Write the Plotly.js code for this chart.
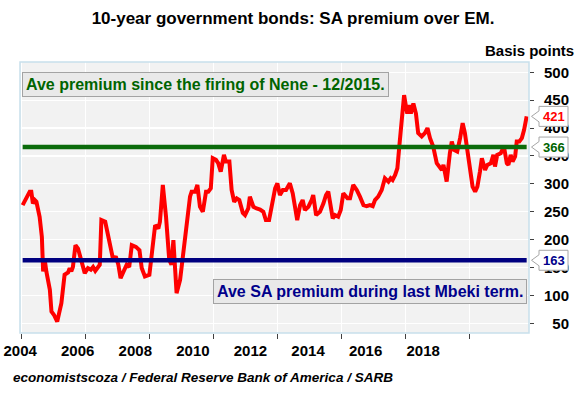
<!DOCTYPE html>
<html><head><meta charset="utf-8">
<script src="https://cdn.plot.ly/plotly-3.0.1.min.js"></script>
<style>html,body{margin:0;padding:0;background:#fff}#chart{width:577px;height:396px}</style>
</head><body><div id="chart"></div>
<script>
// ---- data ----
const years = [2004.03, 2004.25, 2004.30, 2004.35, 2004.41, 2004.46, 2004.56, 2004.63, 2004.67, 2004.72, 2004.77, 2004.88, 2004.93,
  2005.01, 2005.11, 2005.24, 2005.34, 2005.45, 2005.50, 2005.55, 2005.60, 2005.68, 2005.76, 2005.86, 2005.97,
  2006.07, 2006.16, 2006.23, 2006.30, 2006.44, 2006.49, 2006.61, 2006.76, 2006.84, 2006.95,
  2007.02, 2007.09, 2007.20, 2007.28, 2007.36, 2007.44, 2007.57, 2007.68, 2007.75, 2007.85, 2007.99,
  2008.06, 2008.17, 2008.27, 2008.32, 2008.41, 2008.51, 2008.61, 2008.68, 2008.74, 2008.84, 2008.95,
  2009.05, 2009.18, 2009.26, 2009.31, 2009.42, 2009.49, 2009.57, 2009.66, 2009.76, 2009.83, 2009.91, 2009.97,
  2010.07, 2010.14, 2010.22, 2010.32, 2010.38, 2010.49, 2010.56, 2010.64, 2010.72, 2010.80, 2010.91, 2010.98,
  2011.08, 2011.13, 2011.24, 2011.34, 2011.45, 2011.55, 2011.63, 2011.73, 2011.81, 2011.92, 2011.99,
  2012.07, 2012.16, 2012.26, 2012.38, 2012.47, 2012.54, 2012.61, 2012.70, 2012.78, 2012.85, 2012.96,
  2013.06, 2013.11, 2013.20, 2013.32, 2013.43, 2013.51, 2013.58, 2013.66, 2013.72, 2013.79, 2013.89, 2013.97,
  2014.05, 2014.18, 2014.26, 2014.36, 2014.47, 2014.57, 2014.68, 2014.78, 2014.88, 2014.97,
  2015.04, 2015.14, 2015.25, 2015.35, 2015.46, 2015.53, 2015.59, 2015.67, 2015.74, 2015.80, 2015.88, 2015.95,
  2016.01, 2016.05, 2016.11, 2016.16, 2016.24, 2016.32, 2016.39, 2016.50, 2016.60, 2016.68, 2016.76, 2016.86, 2016.97,
  2017.07, 2017.13, 2017.18, 2017.28, 2017.38, 2017.44, 2017.51, 2017.61, 2017.70, 2017.78, 2017.85, 2017.93,
  2018.01, 2018.09, 2018.17, 2018.24, 2018.32, 2018.38, 2018.48, 2018.55, 2018.66, 2018.74, 2018.79, 2018.86, 2018.97,
  2019.07, 2019.16, 2019.21, 2019.28, 2019.34, 2019.42, 2019.47, 2019.55, 2019.63, 2019.70, 2019.78];

const premium = [262, 286, 286, 265, 271, 268, 241, 205, 143, 164, 143, 110, 71,
  65, 53, 86, 137, 141, 149, 143, 151, 190, 184, 160, 140,
  149, 146, 151, 144, 155, 235, 232, 190, 169, 168,
  155, 131, 146, 155, 151, 190, 187, 181, 149, 134, 137,
  175, 226, 220, 232, 298, 241, 164, 155, 199, 104, 128,
  181, 241, 277, 286, 286, 298, 259, 250, 286, 286, 292, 346,
  343, 337, 322, 352, 340, 340, 289, 268, 274, 271, 248, 244,
  256, 277, 259, 256, 254, 250, 235, 235, 259, 292, 301,
  280, 289, 289, 301, 283, 259, 235, 262, 271, 253, 259,
  271, 280, 244, 250, 265, 280, 286, 256, 238, 244, 241, 253,
  283, 274, 274, 298, 289, 277, 262, 260, 262, 260,
  271, 277, 289, 310, 304, 310, 307, 316, 328, 367, 426, 459,
  438, 426, 441, 426, 444, 426, 391, 385, 391, 400, 382, 367, 337,
  331, 325, 334, 304, 355, 376, 361, 358, 382, 409, 391, 361,
  322, 295, 286, 295, 322, 346, 325, 334, 337, 352, 331, 352, 355,
  367, 337, 334, 352, 340, 349, 376, 376, 382, 397, 421];

const neneAvg = 366;   // average premium since Dec 2015
const mbekiAvg = 163;  // average premium during last Mbeki term

const xTickVals = [2004, 2006, 2008, 2010, 2012, 2014, 2016, 2018];
const xTickText = ['2004', '2006', '2008', '2010', '2012', '2014', '2016', '2018'];
const yTickVals = [50, 100, 150, 200, 250, 300, 350, 400, 450, 500];
const yTickText = ['50', '100', '150', '200', '250', '300', '350', '400', '450', '500'];

// ---- layout helpers ----
const FONT = 'Liberation Sans, Arial, sans-serif';
const W = 577, H = 396;
const M = {l: 20, r: 5, t: 62, b: 63};
const paperW = W - M.l - M.r;
const plotH = H - M.t - M.b;
const plotRight = 529;
const xDomEnd = (plotRight - M.l) / paperW;
const px2paperX = px => (px - M.l) / paperW;
const px2paperY = py => (H - M.b - py) / plotH;
const yRange = [32.6, 518.5];
const bpPerPx = (yRange[1] - yRange[0]) / plotH;
// label axis: labels sit 28.79 px per year apart (as in the reference)
const labelStart = 2003.995;
const labelRange = [labelStart, labelStart + (plotRight - M.l) / 28.79];

const lastVal = premium[premium.length - 1];

function calloutShape(v) {
  const x0 = px2paperX(531.5), x1 = px2paperX(539), x2 = px2paperX(568);
  const h = 10 * bpPerPx, p = 5.5 * bpPerPx;
  return {
    type: 'path', xref: 'paper', yref: 'y', layer: 'above',
    path: `M${x1},${v + h} L${x2},${v + h} L${x2},${v - h} L${x1},${v - h} L${x1},${v - p} L${x0},${v} L${x1},${v + p} Z`,
    fillcolor: '#ffffff', line: {color: '#a6a6a6', width: 1}
  };
}
function calloutText(v, color) {
  return {
    xref: 'paper', yref: 'y', x: px2paperX(554), y: v, xanchor: 'center', yanchor: 'middle',
    text: String(v), showarrow: false,
    font: {family: FONT, size: 13, color: color, weight: 'bold'}
  };
}

const GREEN = '#0b6b0b', NAVY = '#000080', RED = '#ff0000';

const traces = [
  {x: years, y: premium, type: 'scatter', mode: 'lines', line: {color: RED, width: 4}, hoverinfo: 'skip', showlegend: false},
  {x: [years[0], years[years.length - 1]], y: [neneAvg, neneAvg], type: 'scatter', mode: 'lines',
   line: {color: GREEN, width: 4.5}, hoverinfo: 'skip', showlegend: false},
  {x: [years[0], years[years.length - 1]], y: [mbekiAvg, mbekiAvg], type: 'scatter', mode: 'lines',
   line: {color: NAVY, width: 4.5}, hoverinfo: 'skip', showlegend: false},
  {x: [], y: [], type: 'scatter', xaxis: 'x2', yaxis: 'y', hoverinfo: 'skip', showlegend: false},
  {x: [], y: [], type: 'scatter', xaxis: 'x', yaxis: 'y2', hoverinfo: 'skip', showlegend: false}
];

const tickFont = {family: FONT, size: 15, color: '#000', weight: 'bold'};

const layout = {
  width: W, height: H,
  margin: M,
  paper_bgcolor: '#ffffff', plot_bgcolor: '#f2f2f2',
  showlegend: false,
  title: {
    text: '10-year government bonds: SA premium over EM.',
    font: {family: FONT, size: 17, color: '#000', weight: 'bold'},
    xref: 'container', yref: 'container', x: 293 / W, y: 1 - 18 / H, xanchor: 'center', yanchor: 'middle'
  },
  xaxis: {
    domain: [0, xDomEnd], range: [2003.947, 2019.853],
    tickmode: 'array', tickvals: xTickVals, showticklabels: false,
    ticks: 'outside', ticklen: 5, tickcolor: '#404040', tickwidth: 1,
    showgrid: true, gridcolor: '#ffffff', gridwidth: 1.2, zeroline: false, showline: false, fixedrange: true
  },
  xaxis2: {
    overlaying: 'x', anchor: 'y', side: 'bottom', range: labelRange,
    tickmode: 'array', tickvals: xTickVals, ticktext: xTickText, ticks: '', ticklabelstandoff: 7,
    showgrid: false, zeroline: false, showline: false, tickfont: tickFont, fixedrange: true
  },
  yaxis: {
    side: 'right', range: yRange,
    tickmode: 'array', tickvals: yTickVals, showticklabels: false,
    ticks: 'outside', ticklen: 4, tickcolor: '#404040', tickwidth: 1,
    showgrid: true, gridcolor: '#ffffff', gridwidth: 1.2, zeroline: false, showline: false, fixedrange: true
  },
  yaxis2: {
    overlaying: 'y', side: 'left', anchor: 'free', position: px2paperX(569), range: yRange,
    tickmode: 'array', tickvals: yTickVals, ticktext: yTickText, ticks: '',
    showgrid: false, zeroline: false, showline: false, tickfont: tickFont, fixedrange: true
  },
  shapes: [
    {type: 'rect', xref: 'paper', yref: 'paper', x0: 0, x1: xDomEnd, y0: 0, y1: 1,
     line: {color: '#c8dfeb', width: 1.5}, fillcolor: 'rgba(0,0,0,0)', layer: 'above'},
    calloutShape(lastVal), calloutShape(neneAvg), calloutShape(mbekiAvg)
  ],
  annotations: [
    {xref: 'paper', yref: 'paper', x: px2paperX(576), y: px2paperY(50.7), xanchor: 'right', yanchor: 'middle',
     text: 'Basis points', showarrow: false, font: {family: FONT, size: 15, color: '#000', weight: 'bold'}},
    {xref: 'paper', yref: 'paper', x: px2paperX(11), y: px2paperY(377), xanchor: 'left', yanchor: 'middle',
     text: 'economistscoza / Federal Reserve Bank of America / SARB', showarrow: false,
     font: {family: FONT, size: 13.5, color: '#000', weight: 'bold', style: 'italic'}},
    {xref: 'paper', yref: 'paper', x: px2paperX(22), y: px2paperY(72.3), xanchor: 'left', yanchor: 'top',
     text: 'Ave premium since the firing of Nene - 12/2015.', showarrow: false,
     bgcolor: '#e9e9e9', bordercolor: '#a3a3a3', borderwidth: 1, borderpad: 3,
     font: {family: FONT, size: 16, color: '#006400', weight: 'bold'}},
    {xref: 'paper', yref: 'paper', x: px2paperX(527), y: px2paperY(279.3), xanchor: 'right', yanchor: 'top',
     text: 'Ave SA premium during last Mbeki term.', showarrow: false,
     bgcolor: '#e9e9e9', bordercolor: '#a3a3a3', borderwidth: 1, borderpad: 3,
     font: {family: FONT, size: 16, color: '#00008b', weight: 'bold'}},
    calloutText(lastVal, RED), calloutText(neneAvg, '#006400'), calloutText(mbekiAvg, '#00008b')
  ]
};

Plotly.newPlot('chart', traces, layout, {displayModeBar: false, staticPlot: true});
</script>
</body></html>
